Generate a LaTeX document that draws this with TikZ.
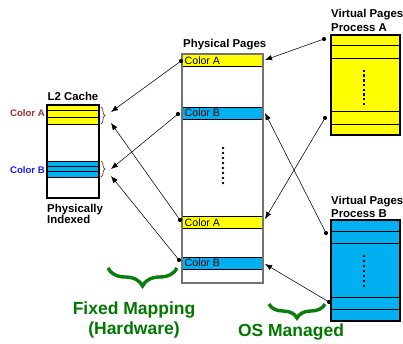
\documentclass[tikz,border=0pt]{standalone}
\usepackage{fontspec}
\setmainfont{Liberation Sans}
\usetikzlibrary{arrows.meta,decorations.pathreplacing}
\definecolor{cyb}{RGB}{0,176,240}
\definecolor{ylw}{RGB}{255,255,0}
\definecolor{grn}{RGB}{0,120,0}
\definecolor{bgrn}{RGB}{10,125,10}
\definecolor{ca}{RGB}{165,45,45}
\definecolor{cb}{RGB}{25,25,255}
\definecolor{brc}{RGB}{120,85,50}
\begin{document}
\begin{tikzpicture}[x=1pt,y=-1pt,
  title/.style={font=\fontsize{11.4}{12}\selectfont\bfseries, inner sep=0, anchor=west},
  rowtxt/.style={font=\fontsize{10.6}{11}\selectfont, inner sep=0, anchor=west},
  prow/.style={draw=black, line width=0.8pt, inner sep=0, minimum width=81, minimum height=12, anchor=north west},
  conn/.style={line width=0.55pt, -{Latex[length=7pt,width=5.5pt]}},
  gtext/.style={font=\fontsize{17.5}{20}\selectfont\bfseries, text=grn, inner sep=0, align=center},
  gbrace/.style={draw=bgrn, line width=3.4pt, decorate, decoration={brace, mirror, amplitude=#1}},
  sbrace/.style={draw=brc, line width=0.8pt, decorate, decoration={brace, amplitude=4}}
]
\useasboundingbox (0,0) rectangle (403,344);

% ---------- L2 cache ----------
\node[title, anchor=center] (l2t) at (73,96) {L2 Cache};
\fill[ylw] (47,105) rectangle (99,124);
\fill[cyb] (47,161) rectangle (99,177);
\draw[line width=0.9pt] (47,110) -- (99,110) (47,117.5) -- (99,117.5) (47,124) -- (99,124);
\draw[line width=0.9pt] (47,161) -- (99,161) (47,166) -- (99,166) (47,171) -- (99,171) (47,177) -- (99,177);
\draw[line width=1.2pt] (47,105) rectangle (99,198);
\node[font=\fontsize{9.6}{10}\selectfont\bfseries, text=ca, inner sep=0, anchor=east] (lca) at (45,113) {Color A};
\node[font=\fontsize{9.6}{10}\selectfont\bfseries, text=cb, inner sep=0, anchor=east] (lcb) at (45,170) {Color B};
\node[title, anchor=north west, align=left] (pind) at (47,204) {Physically\\[-1pt]Indexed};
\draw[sbrace] (101,107) -- (101,124);
\draw[sbrace] (101,161) -- (101,177);
\coordinate (ta1) at (111,112);
\coordinate (ta2) at (111,123);
\coordinate (tb1) at (111,169);
\coordinate (tb2) at (111,176);

% ---------- Physical pages ----------
\node[title] (ppt) at (183,45) {Physical Pages};
\node[prow, fill=ylw] (pa1) at (182,54) {};
\node[prow, fill=cyb] (pb1) at (182,107) {};
\node[prow, fill=ylw] (pa2) at (182,216) {};
\node[prow, fill=cyb] (pb2) at (182,257) {};
\draw[draw=black!55, line width=1.3pt] (182,54) rectangle (263,283);
\node[rowtxt] at (184.5,60.5) {Color A};
\node[rowtxt] at (184.5,113) {Color B};
\node[rowtxt] at (184.5,222.5) {Color A};
\node[rowtxt] at (184.5,263) {Color B};
\foreach \yy in {148,153,...,183} \fill (223,\yy) circle (1.3);
\coordinate (da1) at (181,61);
\coordinate (db1) at (178,114);
\coordinate (da2) at (180,220);
\coordinate (db2) at (179,260);
\coordinate (ea1) at (265,60);
\coordinate (eb1) at (265,113);
\coordinate (ea2) at (265,219);
\coordinate (eb2) at (265,264);

% ---------- Virtual pages A ----------
\node[title] (vta) at (331,15) {Virtual Pages};
\node[title] (pra) at (331,28) {Process A};
\fill[ylw] (331,35) rectangle (400,135);
\draw[line width=0.9pt] (331,45) -- (400,45) (331,58) -- (400,58) (331,111) -- (400,111) (331,124) -- (400,124);
\draw[line width=1.2pt] (331,35) rectangle (400,135);
\foreach \yy in {71,75.7,...,105} \fill (363,\yy-1.2) rectangle (365.4,\yy+1.2);
\coordinate (va1) at (324,39);
\coordinate (va2) at (325,118);

% ---------- Virtual pages B ----------
\node[title] (vtb) at (331,202) {Virtual Pages};
\node[title] (prb) at (331,214) {Process B};
\fill[cyb] (331,220) rectangle (400,321);
\draw[line width=0.9pt] (331,231) -- (400,231) (331,243) -- (400,243) (331,297) -- (400,297) (331,309) -- (400,309);
\draw[line width=1.2pt] (331,220) rectangle (400,321);
\foreach \yy in {256,261,...,288} \fill (363,\yy-1.2) rectangle (365.4,\yy+1.2);
\coordinate (vb1) at (326,233);
\coordinate (vb2) at (329,302);

% ---------- connectors ----------
\foreach \d in {da1,db1,da2,db2,va1,va2,vb1,vb2} \fill (\d) circle (2.1);
\draw[conn] (da1) -- (ta1);
\draw[conn] (da2) -- (ta2);
\draw[conn] (db1) -- (tb1);
\draw[conn] (db2) -- (tb2);
\draw[conn] (va1) -- (ea1);
\draw[conn] (va2) -- (ea2);
\draw[conn] (vb1) -- (eb1);
\draw[conn] (vb2) -- (eb2);

% ---------- green braces and labels ----------
\draw[gbrace=18] (108,268) -- (177,268);
\draw[gbrace=14] (269,304) -- (325,304);
\node[gtext] (fm) at (134,320) {Fixed Mapping\\(Hardware)};
\node[gtext] (osm) at (291,332) {OS Managed};
\end{tikzpicture}
\end{document}
